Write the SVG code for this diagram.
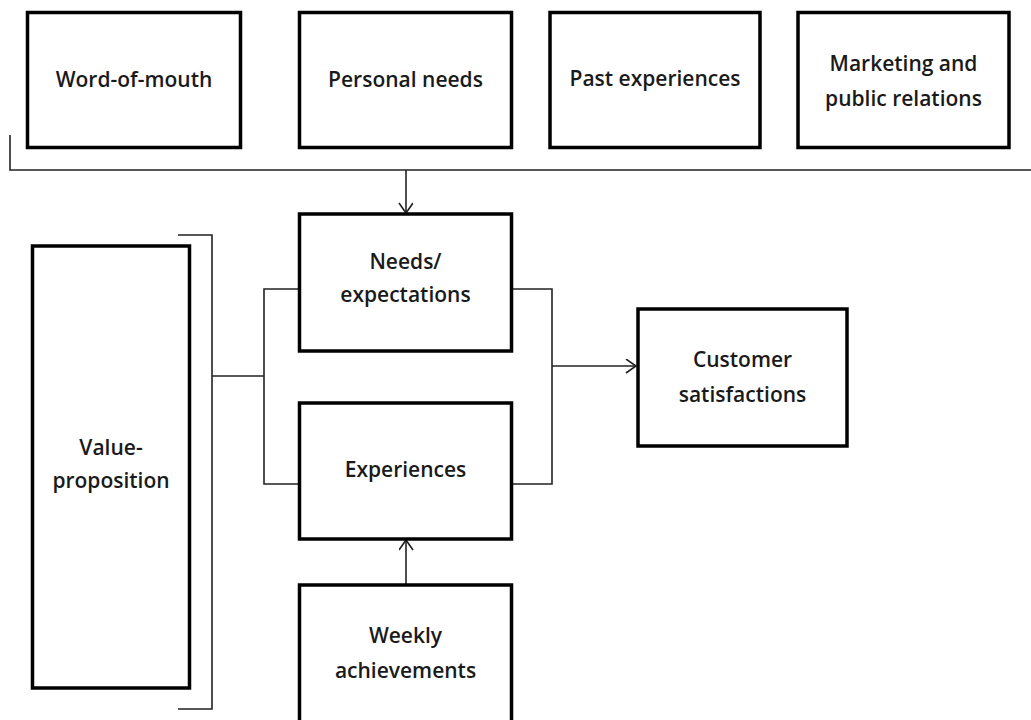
<svg xmlns="http://www.w3.org/2000/svg" width="1031" height="720" viewBox="0 0 1031 720">
<style>
.box{fill:#fff;stroke:#000;stroke-width:3.5}
.lbl{font-family:"Open Sans",sans-serif;font-weight:600;font-size:21px;fill:#1a1a1a;text-anchor:middle}
.con{fill:none;stroke:#222;stroke-width:1.6}
</style>
<defs>
<marker id="arr" markerWidth="14" markerHeight="16" refX="11" refY="7" orient="auto" markerUnits="userSpaceOnUse">
<path d="M1,0 L11,7 L1,14" fill="none" stroke="#222" stroke-width="1.6"/>
</marker>
</defs>
<rect width="1031" height="720" fill="#fff"/>
<g id="connectors">
<path class="con" d="M10,135 V170 H1031" stroke="#666"/>
<path class="con" d="M406,170 V213" marker-end="url(#arr)"/>
<path class="con" d="M178,235 H212 V709 H178"/>
<path class="con" d="M212,376 H264"/>
<path class="con" d="M299,289 H264 V484 H299"/>
<path class="con" d="M512,289 H552 V484 H512"/>
<path class="con" d="M552,366 H636" marker-end="url(#arr)"/>
<path class="con" d="M406,585 V540" marker-end="url(#arr)"/>
</g>
<g id="word-of-mouth"><rect class="box" x="27.5" y="12.5" width="213" height="135"/><text class="lbl" x="134" y="87">Word-of-mouth</text></g>
<g id="personal-needs"><rect class="box" x="299.5" y="12.5" width="212" height="135"/><text class="lbl" x="405.5" y="87">Personal needs</text></g>
<g id="past-experiences"><rect class="box" x="550" y="12.5" width="210" height="135"/><text class="lbl" x="655" y="86">Past experiences</text></g>
<g id="marketing"><rect class="box" x="798" y="12.5" width="211" height="135"/><text class="lbl" x="903.5" y="71">Marketing and</text><text class="lbl" x="903.5" y="106">public relations</text></g>
<g id="needs"><rect class="box" x="299.5" y="214" width="212" height="137"/><text class="lbl" x="405.5" y="269">Needs/</text><text class="lbl" x="405.5" y="302">expectations</text></g>
<g id="experiences"><rect class="box" x="299.5" y="403" width="212" height="136"/><text class="lbl" x="405.5" y="477">Experiences</text></g>
<g id="weekly"><rect class="box" x="299.5" y="585" width="212" height="140"/><text class="lbl" x="405.5" y="643">Weekly</text><text class="lbl" x="405.5" y="678">achievements</text></g>
<g id="value-proposition"><rect class="box" x="32.5" y="246" width="157" height="442"/><text class="lbl" x="111" y="455">Value-</text><text class="lbl" x="111" y="488">proposition</text></g>
<g id="customer"><rect class="box" x="638" y="309" width="209" height="137"/><text class="lbl" x="742.5" y="367">Customer</text><text class="lbl" x="742.5" y="402">satisfactions</text></g>
</svg>
